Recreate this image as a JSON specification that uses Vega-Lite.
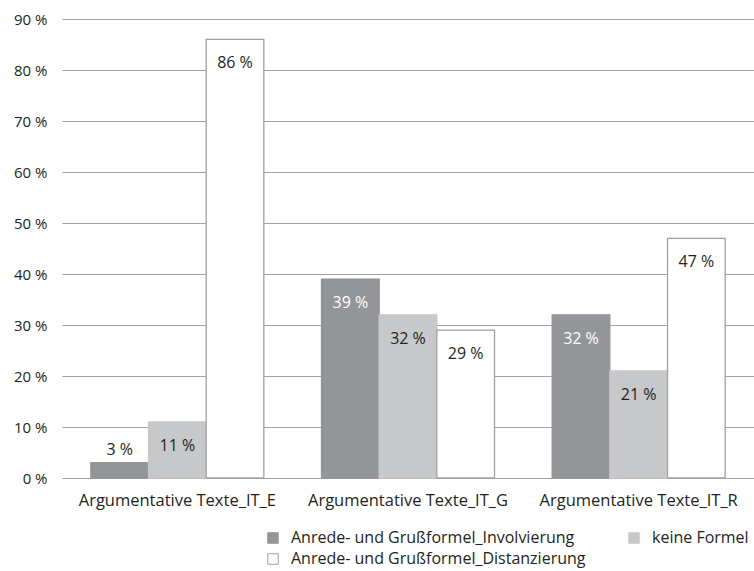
{
  "$schema": "https://vega.github.io/schema/vega-lite/v6.json",
  "width": 692,
  "height": 459,
  "autosize": "none",
  "padding": {"left": 62, "top": 19, "right": 0, "bottom": 93},
  "background": "white",
  "config": {
    "font": "Open Sans",
    "view": {"stroke": null}
  },
  "data": {
    "values": [
      {"text": "Argumentative Texte_IT_E", "typ": "Anrede- und Grußformel_Involvierung", "value": 3},
      {"text": "Argumentative Texte_IT_E", "typ": "keine Formel", "value": 11},
      {"text": "Argumentative Texte_IT_E", "typ": "Anrede- und Grußformel_Distanzierung", "value": 86},
      {"text": "Argumentative Texte_IT_G", "typ": "Anrede- und Grußformel_Involvierung", "value": 39},
      {"text": "Argumentative Texte_IT_G", "typ": "keine Formel", "value": 32},
      {"text": "Argumentative Texte_IT_G", "typ": "Anrede- und Grußformel_Distanzierung", "value": 29},
      {"text": "Argumentative Texte_IT_R", "typ": "Anrede- und Grußformel_Involvierung", "value": 32},
      {"text": "Argumentative Texte_IT_R", "typ": "keine Formel", "value": 21},
      {"text": "Argumentative Texte_IT_R", "typ": "Anrede- und Grußformel_Distanzierung", "value": 47}
    ]
  },
  "transform": [{"calculate": "datum.value + ' %'", "as": "label"}],
  "encoding": {
    "x": {
      "field": "text", "type": "nominal",
      "scale": {"paddingInner": 0, "paddingOuter": 0},
      "axis": {
        "title": null, "labelAngle": 0, "ticks": false, "domain": false,
        "labelFontSize": 16.5, "labelColor": "#231f20", "labelPadding": 14, "grid": false,
        "labelLimit": 400
      }
    },
    "xOffset": {
      "field": "typ", "type": "nominal",
      "sort": ["Anrede- und Grußformel_Involvierung", "keine Formel", "Anrede- und Grußformel_Distanzierung"],
      "scale": {"paddingInner": 0, "paddingOuter": 0.5}
    },
    "y": {
      "field": "value", "type": "quantitative",
      "scale": {"domain": [0, 90]},
      "axis": {
        "title": null, "values": [0, 10, 20, 30, 40, 50, 60, 70, 80, 90],
        "labelExpr": "datum.value + ' %'", "ticks": false, "domain": false,
        "grid": true, "gridColor": "#a3a3a3", "gridWidth": 1.2,
        "labelFontSize": 15, "labelColor": "#231f20", "labelPadding": 15
      }
    }
  },
  "layer": [
    {
      "mark": {"type": "bar", "strokeWidth": 1.3},
      "encoding": {
        "fill": {
          "field": "typ", "type": "nominal",
          "scale": {
            "domain": ["Anrede- und Grußformel_Involvierung", "keine Formel", "Anrede- und Grußformel_Distanzierung"],
            "range": ["#939598", "#c7c8ca", "#ffffff"]
          },
          "legend": {
            "title": null, "orient": "none", "legendX": 203, "legendY": 511,
            "direction": "horizontal", "columns": 2, "columnPadding": 40, "rowPadding": 5,
            "symbolType": "square", "symbolSize": 110, "symbolStrokeWidth": 1,
            "labelFontSize": 16, "labelColor": "#231f20", "labelOffset": 10,
            "labelLimit": 400
          }
        },
        "stroke": {
          "field": "typ", "type": "nominal",
          "scale": {
            "domain": ["Anrede- und Grußformel_Involvierung", "keine Formel", "Anrede- und Grußformel_Distanzierung"],
            "range": ["#939598", "#c7c8ca", "#a0a0a0"]
          },
          "legend": null
        }
      }
    },
    {
      "transform": [{"filter": "datum.value >= 5"}],
      "mark": {"type": "text", "baseline": "middle", "dy": 24, "fontSize": 16},
      "encoding": {
        "text": {"field": "label"},
        "color": {
          "condition": {"test": "datum.typ === 'Anrede- und Grußformel_Involvierung'", "value": "#ffffff"},
          "value": "#231f20"
        }
      }
    },
    {
      "transform": [{"filter": "datum.value < 5"}],
      "mark": {"type": "text", "baseline": "middle", "dy": -13, "fontSize": 16, "color": "#231f20"},
      "encoding": {
        "text": {"field": "label"}
      }
    }
  ]
}
